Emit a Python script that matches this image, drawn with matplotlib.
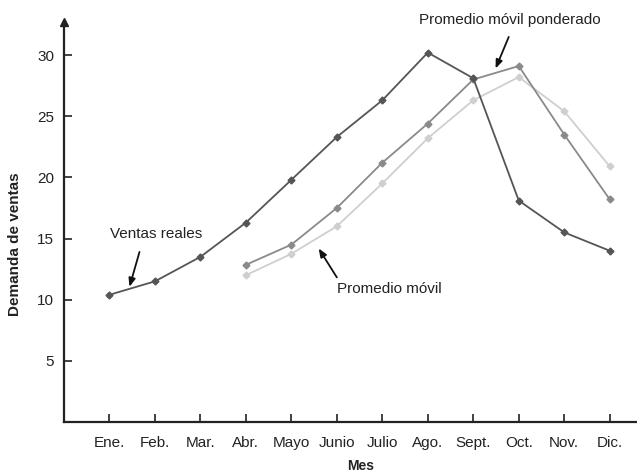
import numpy as np
from matplotlib import pyplot as plt

plt.rcParams['font.family'] = ['Liberation Sans', 'DejaVu Sans']

# monthly sales demand and the two forecasts
meses = ['Ene.', 'Feb.', 'Mar.', 'Abr.', 'Mayo', 'Junio', 'Julio',
         'Ago.', 'Sept.', 'Oct.', 'Nov.', 'Dic.']
ventasReales = [10.4, 11.5, 13.5, 16.3, 19.8, 23.3, 26.3, 30.2, 28.1, 18.1, 15.5, 14.0]
# forecasts start in April (index 3)
promedioMovil = [12.0, 13.75, 16.0, 19.5, 23.2, 26.3, 28.2, 25.4, 20.9]
promedioPonderado = [12.85, 14.5, 17.5, 21.2, 24.4, 28.0, 29.1, 23.5, 18.2]

x = np.arange( 1, len( meses ) + 1 )
xForecast = x[ 3: ]

fig = plt.figure( figsize=( 6.37, 4.72 ), dpi=100 )
ax = fig.add_axes( [ 64/637, 50/472, 573/637, 400/472 ] )

ax.plot( xForecast, promedioMovil, '-', color='#cfcfcf', lw=1.3,
         marker='D', ms=3.5, mfc='#cfcfcf', mec='#cfcfcf' )
ax.plot( xForecast, promedioPonderado, '-', color='#8a8a8a', lw=1.3,
         marker='D', ms=3.5, mfc='#8a8a8a', mec='#8a8a8a' )
ax.plot( x, ventasReales, '-', color='#555555', lw=1.3,
         marker='D', ms=3.5, mfc='#555555', mec='#555555' )

ax.set_xlim( 0, 12.6 )
ax.set_ylim( 0, 32.7 )
ax.set_xticks( x )
ax.set_xticklabels( meses )
ax.set_yticks( [ 5, 10, 15, 20, 25, 30 ] )

for side in [ 'top', 'right' ]:
    ax.spines[ side ].set_visible( False )
for side in [ 'left', 'bottom' ]:
    ax.spines[ side ].set_linewidth( 1.6 )
    ax.spines[ side ].set_color( '#222222' )

ax.tick_params( axis='both', direction='in', length=6, width=1.2,
                colors='#222222', labelsize=11 )
ax.tick_params( axis='x', pad=10 )
ax.tick_params( axis='y', pad=7 )

# arrow head at the top of the y axis
ax.plot( [ 0 ], [ 32.7 ], marker='^', ms=6, color='#222222', clip_on=False )

ax.set_ylabel( 'Demanda de ventas', fontweight='bold', fontsize=11, color='#222222' )
ax.yaxis.set_label_coords( -0.074, 0.445 )
ax.set_xlabel( 'Mes', fontweight='bold', fontsize=10, color='#222222' )
ax.xaxis.set_label_coords( 0.517, -0.093 )

arrowStyle = dict( arrowstyle='-|>,head_length=0.5,head_width=0.2',
                   color='#111111', lw=1.3, shrinkA=0, shrinkB=0 )

ax.text( 2.035, 15.36, 'Ventas reales', ha='center', va='center',
         fontsize=11, color='#222222' )
ax.annotate( '', xy=( 1.44, 11.05 ), xytext=( 1.66, 13.9 ), arrowprops=arrowStyle )

ax.text( 9.8, 32.84, 'Promedio móvil ponderado', ha='center', va='center',
         fontsize=11, color='#222222', clip_on=False )
ax.annotate( '', xy=( 9.49, 28.9 ), xytext=( 9.78, 31.48 ), arrowprops=arrowStyle )

ax.text( 7.16, 10.87, 'Promedio móvil', ha='center', va='center',
         fontsize=11, color='#222222' )
ax.annotate( '', xy=( 5.6, 14.19 ), xytext=( 6.0, 11.82 ), arrowprops=arrowStyle )

fig.savefig( 'out.png', dpi=100 )
